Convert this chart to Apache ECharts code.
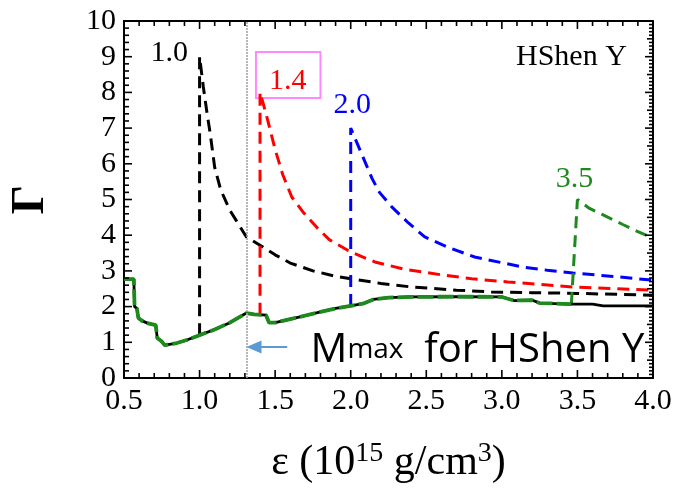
<!DOCTYPE html>
<html><head><meta charset="utf-8">
<script src="https://cdn.jsdelivr.net/npm/echarts@6/dist/echarts.min.js"></script>
<style>html,body{margin:0;padding:0;background:#fff}#c{width:684px;height:489px}</style>
</head><body><div id="c"></div>
<script>
// ---- data ----
const xTickLabels = ['0.5','1.0','1.5','2.0','2.5','3.0','3.5','4.0'];
const yTickLabels = ['0','1','2','3','4','5','6','7','8','9','10'];

const solidBlack = [[0.5,2.77],[0.565,2.77],[0.57,2.0],[0.585,1.95],[0.595,1.68],[0.62,1.6],[0.66,1.53],[0.71,1.48],[0.72,1.12],[0.75,1.02],[0.77,0.92],[0.85,0.98],[0.92,1.07],[1.0,1.2],[1.1,1.36],[1.2,1.55],[1.31,1.82],[1.36,1.78],[1.44,1.76],[1.46,1.55],[1.5,1.55],[1.6,1.65],[1.7,1.75],[1.8,1.85],[1.9,1.95],[2.0,2.02],[2.08,2.08],[2.15,2.2],[2.25,2.25],[2.4,2.27],[2.7,2.28],[3.0,2.27],[3.08,2.17],[3.2,2.18],[3.25,2.1],[3.45,2.07],[3.6,2.07],[3.67,2.02],[4.0,2.02]];
const solidGreen = [[0.5,2.77],[0.565,2.77],[0.57,2.0],[0.585,1.95],[0.595,1.68],[0.62,1.6],[0.66,1.53],[0.71,1.48],[0.72,1.12],[0.75,1.02],[0.77,0.92],[0.85,0.98],[0.92,1.07],[1.0,1.2],[1.1,1.36],[1.2,1.55],[1.31,1.82],[1.36,1.78],[1.44,1.76],[1.46,1.55],[1.5,1.55],[1.6,1.65],[1.7,1.75],[1.8,1.85],[1.9,1.95],[2.0,2.02],[2.08,2.08],[2.15,2.2],[2.25,2.25],[2.4,2.27],[2.7,2.28],[3.0,2.27],[3.08,2.17],[3.2,2.18],[3.25,2.1],[3.46,2.07]];

const dash10 = [[1.0,1.2],[1.0,9.0],[1.025,8.15],[1.05,7.4],[1.07,6.86],[1.1,5.9],[1.14,5.27],[1.2,4.7],[1.24,4.43],[1.31,3.95],[1.4,3.72],[1.5,3.45],[1.6,3.22],[1.75,3.0],[1.9,2.85],[2.0,2.78],[2.2,2.65],[2.4,2.55],[2.7,2.46],[2.93,2.41],[3.2,2.39],[3.5,2.37],[4.0,2.32]];
const dash14 = [[1.4,1.77],[1.4,8.0],[1.44,7.4],[1.5,6.4],[1.55,5.7],[1.61,5.07],[1.69,4.62],[1.78,4.2],[1.86,3.87],[2.0,3.53],[2.16,3.25],[2.35,3.05],[2.6,2.89],[2.8,2.78],[3.04,2.69],[3.25,2.62],[3.47,2.55],[3.75,2.5],[4.0,2.46]];
const dash20 = [[2.0,2.02],[2.0,7.0],[2.08,6.2],[2.14,5.6],[2.19,5.2],[2.27,4.8],[2.38,4.35],[2.49,3.95],[2.65,3.65],[2.82,3.39],[3.0,3.23],[3.15,3.1],[3.3,3.02],[3.47,2.94],[3.75,2.84],[4.0,2.74]];
const dash35 = [[3.46,2.07],[3.5,5.0],[3.58,4.75],[3.67,4.57],[3.8,4.3],[3.9,4.1],[4.0,3.92]];

const mmaxX = 1.31;

// ---- chart ----
const SERIF = "'Liberation Serif','Times New Roman',serif";
const GREEN = '#1e8a1e';
const chart = echarts.init(document.getElementById('c'), null, {renderer:'canvas'});

function xAxisCfg(pos, show){
  return {
    type:'value', position:pos, min:0.5, max:4.0, interval:0.5, show:true,
    axisLine:{show:true, onZero:false, lineStyle:{color:'#000', width:2}},
    axisTick:{show:false}, minorTick:{show:false},
    splitLine:{show:false}, minorSplitLine:{show:false},
    axisLabel:{show:show, margin:8, color:'#000', fontFamily:SERIF, fontSize:30,
      formatter:(v)=>{const i=Math.round((v-0.5)/0.5); return xTickLabels[i]||'';}}
  };
}
function yAxisCfg(pos, show){
  return {
    type:'value', position:pos, min:0, max:10, interval:1, show:true,
    axisLine:{show:true, onZero:false, lineStyle:{color:'#000', width:2}},
    axisTick:{show:false}, minorTick:{show:false},
    splitLine:{show:false}, minorSplitLine:{show:false},
    axisLabel:{show:show, margin:8, color:'#000', fontFamily:SERIF, fontSize:30,
      formatter:(v)=>yTickLabels[Math.round(v)]||''}
  };
}

const xb = xAxisCfg('bottom', true);
xb.name = '{a|ε (10}{s|15}{a| g/cm}{s|3}{a|)}';
xb.nameLocation = 'middle';
xb.nameGap = 62;
xb.nameTextStyle = {color:'#000', fontFamily:SERIF, fontSize:42,
  rich:{a:{fontFamily:SERIF, fontSize:42, color:'#000'}, s:{fontFamily:SERIF, fontSize:28, color:'#000', verticalAlign:'top', padding:[0,0,18,0]}}};
const xt = xAxisCfg('top', false);
const yl = yAxisCfg('left', true);
yl.name = 'Γ'; yl.nameLocation='middle'; yl.nameRotate=90; yl.nameGap=70;
yl.nameTextStyle = {color:'#000', fontFamily:SERIF, fontSize:46, fontWeight:'bold'};
const yr = yAxisCfg('right', false);

// inside tick marks drawn as thin rectangle symbols sitting on the frame
const tickPts = [];
function tk(x, y, w, h, ox, oy){ tickPts.push({value:[x,y], symbolSize:[w,h], symbolOffset:[ox,oy]}); }
for (let i=0;i<=35;i++){
  const v = +(0.5+i*0.1).toFixed(2), L = (i%5===0)?8:5;
  tk(v, 0, 1.6, L, 0, -L/2);
  tk(v, 10, 1.6, L, 0, L/2);
}
for (let i=0;i<=50;i++){
  const v = +(i*0.2).toFixed(2), L = (i%5===0)?8:5;
  tk(0.5, v, L, 1.6, L/2, 0);
}
for (let i=0;i<=100;i++){
  const v = +(i*0.1).toFixed(2), L = (i%10===0)?8:((i%5===0)?6:4);
  tk(4.0, v, L, 1.6, -L/2, 0);
}

function dashed(data, color){
  return {type:'line', data, showSymbol:false, symbol:'none', smooth:false, clip:true,
    lineStyle:{color, width:3, type:[12,7]}, z:2, animation:false};
}

const option = {
  animation:false,
  grid:{left:120, top:21, right:31, bottom:111, containLabel:false},
  xAxis:[xb, xt],
  yAxis:[yl, yr],
  series:[
    dashed(dash10, '#000'),
    dashed(dash14, '#ff0000'),
    dashed(dash20, '#0000ff'),
    dashed(dash35, GREEN),
    {type:'line', data:solidBlack, symbol:'none', lineStyle:{color:'#000', width:2.8}, z:3, animation:false,
      markLine:{silent:true, symbol:['none','none'], label:{show:false},
        lineStyle:{color:'#a6a6a6', width:1.6, type:[2,1]},
        data:[{xAxis:mmaxX}], animation:false}},
    {type:'line', data:solidGreen, symbol:'none', lineStyle:{color:GREEN, width:3.8, type:[16,4]}, z:4, animation:false,
      markLine:{silent:true, symbol:['none','triangle'], symbolSize:[13,15], label:{show:false},
        lineStyle:{color:'#5b9bd5', width:2, type:'solid'},
        data:[[{coord:[1.58,0.87]},{coord:[1.36,0.87]}]], animation:false}},
    {type:'scatter', data:tickPts, symbol:'rect', clip:false, silent:true, z:8, animation:false,
      itemStyle:{color:'#000', opacity:1}, emphasis:{disabled:true}, large:false}
  ]
};
chart.setOption(option);

function P(x,y){return chart.convertToPixel({xAxisIndex:0, yAxisIndex:0},[x,y]);}
const p10 = P(0.80,9.1), p14 = P(1.583,8.32), p20 = P(2.01,7.65), p35 = P(3.48,5.57), pHS = P(3.46,8.99);
const b0 = P(1.373,9.13), b1 = P(1.80,7.84);
const pM = P(1.734,0.45);
chart.setOption({graphic:[
  {type:'text', x:p10[0], y:p10[1], style:{text:'1.0', fill:'#000', font:'30px '+SERIF, align:'center', verticalAlign:'middle'}},
  {type:'rect', shape:{x:b0[0], y:b0[1], width:b1[0]-b0[0], height:b1[1]-b0[1]}, style:{fill:'none', stroke:'#ff88ff', lineWidth:2}},
  {type:'text', x:p14[0], y:p14[1], style:{text:'1.4', fill:'#ff0000', font:'30px '+SERIF, align:'center', verticalAlign:'middle'}},
  {type:'text', x:p20[0], y:p20[1], style:{text:'2.0', fill:'#0000ff', font:'30px '+SERIF, align:'center', verticalAlign:'middle'}},
  {type:'text', x:p35[0], y:p35[1], style:{text:'3.5', fill:GREEN, font:'30px '+SERIF, align:'center', verticalAlign:'middle'}},
  {type:'text', x:pHS[0], y:pHS[1], style:{text:'HShen Y', fill:'#000', font:'30px '+SERIF, align:'center', verticalAlign:'middle'}},
  {type:'text', x:pM[0], y:pM[1]+9, style:{text:'{M|M}{s|max}{t|  for HShen Y}', fill:'#000', align:'left', verticalAlign:'bottom',
    rich:{M:{fontFamily:'Open Sans', fontSize:41, fill:'#000'}, s:{fontFamily:'Open Sans', fontSize:28, fill:'#000'}, t:{fontFamily:'Open Sans', fontSize:40, fill:'#000'}}}}
]});
</script>
</body></html>
